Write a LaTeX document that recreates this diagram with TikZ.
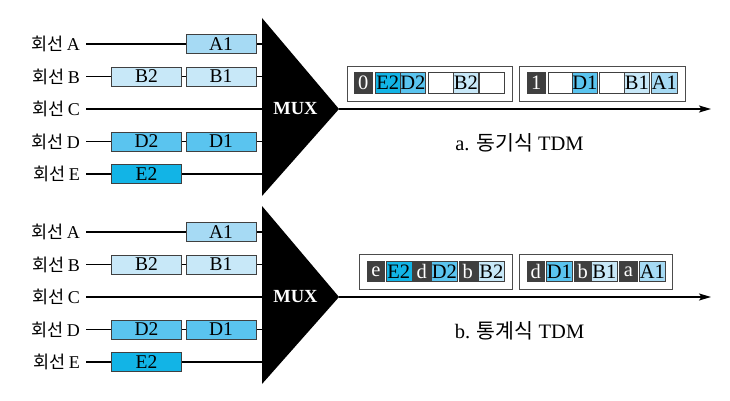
\documentclass[tikz,border=0pt]{standalone}
\usepackage{fontspec}
\setmainfont{Liberation Serif}
\newfontfamily\kr{Noto Sans CJK KR}
\usetikzlibrary{positioning,arrows.meta}

\definecolor{clA}{HTML}{A6DAF4}
\definecolor{clB}{HTML}{C8E8F8}
\definecolor{clD}{HTML}{5AC4EF}
\definecolor{clE}{HTML}{12B4E6}
\definecolor{cldark}{HTML}{3F3F3F}

\def\gap{32.5}

\tikzset{
  lab/.style={anchor=east, inner xsep=6pt, inner ysep=0pt, font=\fontsize{18}{16}\selectfont},
  wire/.style={line width=1.4pt},
  pkt/.style={draw=black!75, line width=0.7pt, minimum width=70, minimum height=19, inner sep=0pt, font=\fontsize{19.5}{18}\selectfont},
  slot/.style={draw=black!75, line width=0.6pt, anchor=west, minimum height=20.5, inner sep=0pt, font=\fontsize{20.5}{19}\selectfont},
  hdr/.style={slot, fill=cldark, text=white},
  sA/.style={slot, fill=clA},
  sB/.style={slot, fill=clB},
  sD/.style={slot, fill=clD},
  sE/.style={slot, fill=clE},
  sN/.style={slot, fill=white},
  frm/.style={draw=black!70, line width=0.8pt},
}

\begin{document}
\begin{tikzpicture}[x=1pt, y=-1pt]
\useasboundingbox (0,0) rectangle (730,401);

\foreach \p/\oy/\cap in {a/0/{a. {\kr\fontsize{20.5}{19}\selectfont 동기식} TDM}, b/188/{b. {\kr\fontsize{20.5}{19}\selectfont 통계식} TDM}} {
  % input lines
  \foreach \l [count=\i from 0] in {A,B,C,D,E} {
    \node[lab] (l\l-\p) at (86, {44+\gap*\i+\oy}) {{\kr\fontsize{17.5}{16}\selectfont 회선}\hspace{3.5pt}\l};
    \coordinate (in\l-\p) at (262, {44+\gap*\i+\oy});
    \draw[wire] (l\l-\p.east) -- (in\l-\p);
  }
  \foreach \nm/\x/\i/\c in {A1/221/0/clA, B2/146.5/1/clB, B1/221/1/clB,
                            D2/146.5/3/clD, D1/221/3/clD, E2/146.5/4/clE}
    \node[pkt, fill=\c] (\nm-\p) at (\x, {44+\gap*\i+\oy}) {\nm};
  % multiplexer
  \coordinate (mt-\p) at (262, 18+\oy);
  \coordinate (mb-\p) at (262, 196+\oy);
  \coordinate (tip-\p) at (339, 109+\oy);
  \fill (mt-\p) -- (tip-\p) -- (mb-\p) -- cycle;
  \node[text=white, font=\fontsize{18.5}{18}\selectfont\bfseries] (mux-\p) at (295.5, 109+\oy) {MUX};
  \coordinate (out-\p) at (711, 109+\oy);
  \draw[wire, -{Stealth[length=12pt, width=7pt, inset=2.5pt]}] (tip-\p) -- (out-\p);
  \node[font=\fontsize{20.5}{19}\selectfont] (cap-\p) at (519.5, 143+\oy) {\cap};
}

% synchronous frames
\draw[frm] (347,66) rectangle (512,101);
\draw[frm] (519,66) rectangle (685,101);
\foreach \x/\w/\t/\st [count=\k] in {354/18/0/hdr, 375/25/E2/sE, 400/25/D2/sD, 428/25//sN,
    453/25/B2/sB, 479/25//sN, 527/18/1/hdr, 548/24//sN, 572/25/D1/sD, 599/25//sN,
    624/25/B1/sB, 651/26/A1/sA}
  \node[\st, minimum width=\w] (sa\k) at (\x, 83) {\t};

% statistical frames
\draw[frm] (359,254) rectangle (512,289);
\draw[frm] (519,254) rectangle (672,289);
\foreach \x/\w/\t/\st [count=\k] in {367/17/e/hdr, 385.5/26/E2/sE, 413/17/d/hdr, 431/26/D2/sD,
    458.5/18/b/hdr, 478/26/B2/sB, 527/17/d/hdr, 546/26/D1/sD, 574/17/b/hdr, 591/26/B1/sB,
    619/18/a/hdr, 639/26/A1/sA}
  \node[\st, minimum width=\w] (sb\k) at (\x, 271.5) {\t};
\end{tikzpicture}
\end{document}
